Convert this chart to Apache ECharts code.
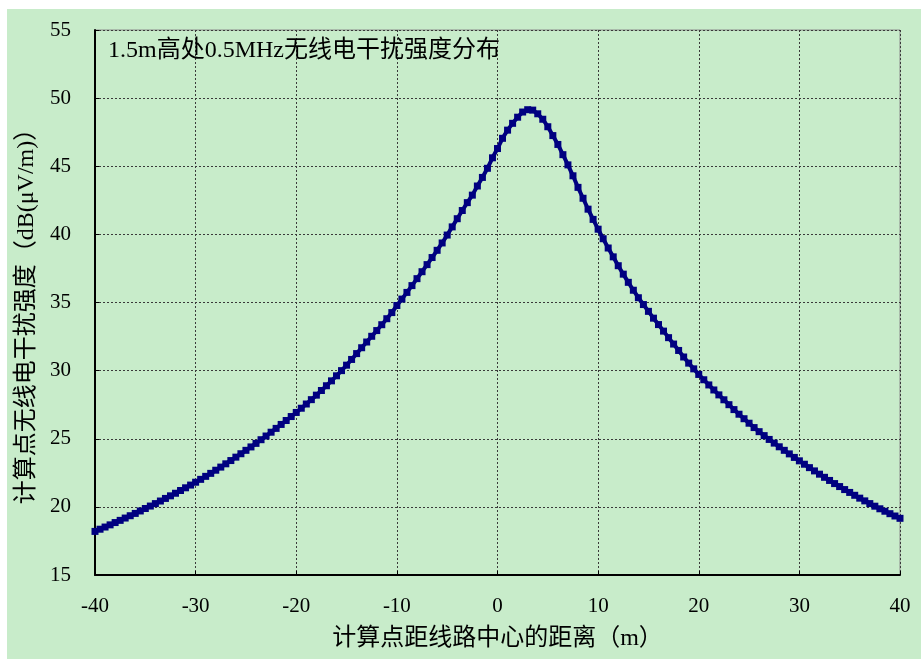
<!DOCTYPE html>
<html>
<head>
<meta charset="utf-8">
<script src="https://cdn.jsdelivr.net/npm/echarts@6/dist/echarts.min.js"></script>
<style>
  html, body { margin: 0; padding: 0; background: #ffffff; }
  #chart { width: 921px; height: 659px; }
</style>
</head>
<body>
<div id="chart"></div>
<script>
// Distance from the line centre (m), every 0.5 m
const distance = [];
for (let i = 0; i <= 160; i++) distance.push(-40 + i * 0.5);

// Radio interference field strength at 1.5 m height, 0.5 MHz, dB(μV/m)
const fieldStrength = [
  18.20, 18.36, 18.52, 18.68, 18.85, 19.01, 19.18, 19.35, 19.52, 19.70,
  19.88, 20.06, 20.24, 20.43, 20.62, 20.81, 21.00, 21.20, 21.40, 21.60,
  21.81, 22.02, 22.24, 22.46, 22.69, 22.92, 23.16, 23.40, 23.65, 23.90,
  24.15, 24.40, 24.66, 24.93, 25.20, 25.48, 25.76, 26.05, 26.34, 26.63,
  26.93, 27.24, 27.55, 27.87, 28.20, 28.54, 28.89, 29.25, 29.62, 30.00,
  30.40, 30.82, 31.25, 31.68, 32.10, 32.52, 32.94, 33.37, 33.81, 34.26,
  34.78, 35.25, 35.74, 36.24, 36.75, 37.26, 37.78, 38.30, 38.83, 39.37,
  39.95, 40.55, 41.15, 41.75, 42.33, 42.88, 43.55, 44.18, 44.85, 45.62,
  46.30, 47.05, 47.65, 48.15, 48.60, 48.98, 49.15, 49.12, 48.85, 48.45,
  47.90, 47.25, 46.60, 45.85, 45.10, 44.30, 43.45, 42.65, 41.85, 41.10,
  40.38, 39.68, 39.00, 38.35, 37.70, 37.08, 36.48, 35.90, 35.35, 34.85,
  34.35, 33.85, 33.38, 32.90, 32.42, 31.95, 31.48, 31.00, 30.55, 30.13,
  29.72, 29.33, 28.95, 28.58, 28.22, 27.86, 27.50, 27.14, 26.80, 26.47,
  26.14, 25.82, 25.52, 25.23, 24.95, 24.68, 24.41, 24.15, 23.89, 23.63,
  23.38, 23.13, 22.88, 22.64, 22.40, 22.17, 21.94, 21.71, 21.49, 21.27,
  21.06, 20.85, 20.64, 20.44, 20.24, 20.05, 19.86, 19.68, 19.50, 19.33,
  19.16
];

const chartTitle = '1.5m高处0.5MHz无线电干扰强度分布';
const xAxisName = '计算点距线路中心的距离（m）';
const yAxisName = '计算点无线电干扰强度（dB(μV/m)）';

const seriesData = distance.map((d, i) => [d, fieldStrength[i]]);

const fontFamily = '"Liberation Serif", "Times New Roman", "Noto Sans CJK SC", serif';
const green = '#c8ecca';
const navy = '#000080';

const chart = echarts.init(document.getElementById('chart'), null, { renderer: 'canvas' });
chart.setOption({
  animation: false,
  backgroundColor: '#ffffff',
  graphic: [
    {
      type: 'rect',
      z: -10,
      silent: true,
      shape: { x: 7, y: 9, width: 914, height: 650 },
      style: { fill: green }
    },
    {
      type: 'text',
      left: 108,
      top: 39,
      z: 10,
      style: {
        text: chartTitle,
        fill: '#000',
        font: '24px ' + fontFamily
      }
    }
  ],
  grid: {
    left: 95,
    right: 21,
    top: 30,
    bottom: 84,
    show: true,
    borderColor: '#8c8c8c',
    borderWidth: 1,
    backgroundColor: 'transparent'
  },
  xAxis: {
    type: 'value',
    min: -40,
    max: 40,
    interval: 10,
    name: xAxisName,
    nameLocation: 'middle',
    nameGap: 52,
    nameTextStyle: { color: '#000', fontSize: 24, fontFamily: fontFamily },
    axisLine: { show: true, onZero: false, lineStyle: { color: '#000', width: 2 } },
    axisTick: { show: true, inside: true, length: 4, lineStyle: { color: '#000', width: 1 } },
    axisLabel: { color: '#000', fontSize: 21, fontFamily: fontFamily, margin: 21 },
    splitLine: { show: true, lineStyle: { color: '#3a3a3a', width: 1, type: [2, 2] } }
  },
  yAxis: {
    type: 'value',
    min: 15,
    max: 55,
    interval: 5,
    name: yAxisName,
    nameLocation: 'middle',
    nameGap: 55,
    nameRotate: 90,
    nameTextStyle: { color: '#000', fontSize: 24, fontFamily: fontFamily, padding: [0, 16, 0, 0] },
    axisLine: { show: true, onZero: false, lineStyle: { color: '#000', width: 2 } },
    axisTick: { show: true, inside: true, length: 4, lineStyle: { color: '#000', width: 1 } },
    axisLabel: { color: '#000', fontSize: 21, fontFamily: fontFamily, margin: 24 },
    splitLine: { show: true, lineStyle: { color: '#3a3a3a', width: 1, type: [2, 2] } }
  },
  series: [
    {
      type: 'line',
      data: seriesData,
      showSymbol: true,
      showAllSymbol: true,
      symbol: 'rect',
      symbolSize: 7,
      itemStyle: { color: navy },
      lineStyle: { color: navy, width: 4 },
      clip: true,
      z: 3
    }
  ]
});
</script>
</body>
</html>
